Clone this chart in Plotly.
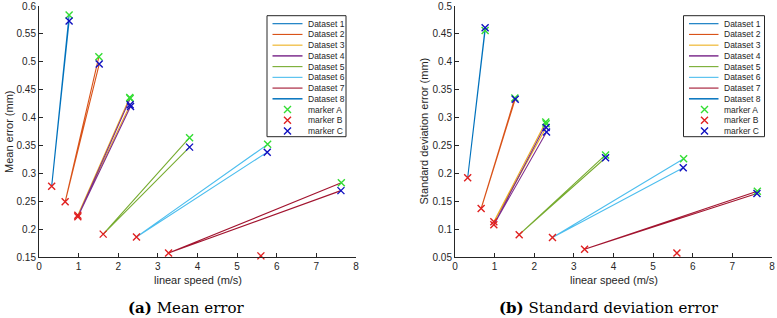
import plotly.graph_objects as go

# ---- data ----
datasets = ["Dataset 1", "Dataset 2", "Dataset 3", "Dataset 4",
            "Dataset 5", "Dataset 6", "Dataset 7", "Dataset 8"]
colors = ["#0072BD", "#D95319", "#EDB120", "#7E2F8E",
          "#77AC30", "#4DBEEE", "#A2142F", "#0072BD"]

speed_A = [0.76, 1.51, 2.29, 2.30, 3.80, 5.77, 7.63, None]
speed_B = [0.32, 0.66, 0.98, 0.98, 1.62, 2.46, 3.27, 5.60]
speed_C = [0.76, 1.52, 2.30, 2.31, 3.80, 5.76, 7.62, None]

mean_A = [0.584, 0.509, 0.436, 0.434, 0.364, 0.352, 0.283, None]
mean_B = [0.277, 0.249, 0.225, 0.222, 0.191, 0.186, 0.157, 0.152]
mean_C = [0.573, 0.496, 0.423, 0.420, 0.347, 0.338, 0.269, None]

std_A = [0.456, 0.335, 0.292, 0.289, 0.233, 0.226, 0.168, None]
std_B = [0.192, 0.137, 0.113, 0.108, 0.090, 0.085, 0.064, 0.057]
std_C = [0.461, 0.333, 0.282, 0.274, 0.228, 0.210, 0.164, None]

marker_names = ["marker A", "marker B", "marker C"]
marker_colors = ["#33DD33", "#E02020", "#1010C0"]

AX = "#262626"
W, H = 777, 318

fig = go.Figure()

panels = [
    ("x", "y", mean_A, mean_B, mean_C),
    ("x2", "y2", std_A, std_B, std_C),
]

for xa, ya, vA, vB, vC in panels:
    for i, name in enumerate(datasets):
        fig.add_trace(go.Scatter(
            x=[speed_A[i], speed_B[i], speed_C[i]],
            y=[vA[i], vB[i], vC[i]],
            mode="lines", name=name, showlegend=False,
            line=dict(color=colors[i], width=1.1),
            xaxis=xa, yaxis=ya, connectgaps=False, cliponaxis=False,
        ))
    for sp, vals, mname, mc in [(speed_A, vA, marker_names[0], marker_colors[0]),
                                (speed_B, vB, marker_names[1], marker_colors[1]),
                                (speed_C, vC, marker_names[2], marker_colors[2])]:
        fig.add_trace(go.Scatter(
            x=sp, y=vals, mode="markers", name=mname, showlegend=False,
            marker=dict(symbol="x-thin", size=7, color=mc,
                        line=dict(color=mc, width=1.4)),
            xaxis=xa, yaxis=ya, cliponaxis=False,
        ))

# ---- legends (drawn on a pixel-coordinate overlay axis) ----
shapes = []
annotations = []
legend_boxes = [(267, 346, 272.5, 302.5, 287.5, 305.5),
                (683.5, 764.5, 689, 718.5, 704.5, 721.5)]
row_y0, row_dy = 23.7, 10.73
legend_labels = datasets + marker_names
for (bx0, bx1, lx0, lx1, mx, tx) in legend_boxes:
    shapes.append(dict(type="rect", xref="x3", yref="y3", x0=bx0, x1=bx1,
                       y0=15.7, y1=136.7, line=dict(color=AX, width=1),
                       fillcolor="white", layer="below"))
    for i, name in enumerate(datasets):
        yy = row_y0 + row_dy * i
        shapes.append(dict(type="line", xref="x3", yref="y3", x0=lx0, x1=lx1,
                           y0=yy, y1=yy,
                           line=dict(color=colors[i], width=1.5 if i in (3, 7) else 1.1)))
    for j, mname in enumerate(marker_names):
        yy = row_y0 + row_dy * (len(datasets) + j)
        fig.add_trace(go.Scatter(
            x=[mx], y=[yy], mode="markers", showlegend=False, hoverinfo="skip",
            marker=dict(symbol="x-thin", size=7, color=marker_colors[j],
                        line=dict(color=marker_colors[j], width=1.4)),
            xaxis="x3", yaxis="y3", cliponaxis=False,
        ))
    for i, lab in enumerate(legend_labels):
        yy = row_y0 + row_dy * i
        annotations.append(dict(text=lab, x=tx, y=yy, xref="x3", yref="y3",
                                xanchor="left", yanchor="middle", showarrow=False,
                                font=dict(family="Liberation Sans", size=8.5, color=AX)))

# axis titles
title_font = dict(family="Liberation Sans", size=11, color=AX)
annotations += [
    dict(text="linear speed (m/s)", x=197.5, y=280, xref="x3", yref="y3",
         showarrow=False, font=title_font),
    dict(text="linear speed (m/s)", x=613.5, y=280, xref="x3", yref="y3",
         showarrow=False, font=title_font),
    dict(text="Mean error (mm)", x=8.5, y=131.5, xref="x3", yref="y3",
         showarrow=False, textangle=-90, font=title_font),
    dict(text="Standard deviation error (mm)", x=423, y=131.5, xref="x3", yref="y3",
         showarrow=False, textangle=-90, font=title_font),
    dict(text="<b>(a)</b> Mean error", x=186, y=308, xref="x3", yref="y3",
         showarrow=False, font=dict(family="DejaVu Serif", size=15, color="black")),
    dict(text="<b>(b)</b> Standard deviation error", x=609, y=308, xref="x3", yref="y3",
         showarrow=False, font=dict(family="DejaVu Serif", size=15, color="black")),
]

axis_common = dict(showline=True, linecolor=AX, linewidth=1, ticks="inside",
                   ticklen=4, tickcolor=AX, showgrid=False, zeroline=False,
                   tickfont=dict(family="Liberation Sans", size=10, color=AX),
                   mirror=False, automargin=False)

fig.update_layout(
    width=W, height=H,
    margin=dict(l=0, r=0, t=0, b=0),
    paper_bgcolor="white", plot_bgcolor="rgba(0,0,0,0)",
    showlegend=False,
    font=dict(family="Liberation Sans", color=AX),
    xaxis=dict(domain=[39/W, 356/W], range=[0, 8], dtick=1, anchor="y", **axis_common),
    yaxis=dict(domain=[1-257/H, 1-6/H], range=[0.15, 0.6], dtick=0.05, anchor="x", **axis_common),
    xaxis2=dict(domain=[455/W, 772/W], range=[0, 8], dtick=1, anchor="y2", **axis_common),
    yaxis2=dict(domain=[1-257/H, 1-6/H], range=[0.05, 0.5], dtick=0.05, anchor="x2", **axis_common),
    xaxis3=dict(domain=[0, 1], range=[0, W], visible=False, anchor="y3", automargin=False),
    yaxis3=dict(domain=[0, 1], range=[H, 0], visible=False, anchor="x3", automargin=False),
    shapes=shapes,
    annotations=annotations,
)

fig.write_html("out.html",
               config={"displayModeBar": False},
               post_script="document.body.style.margin='0';document.body.style.overflow='hidden';")
